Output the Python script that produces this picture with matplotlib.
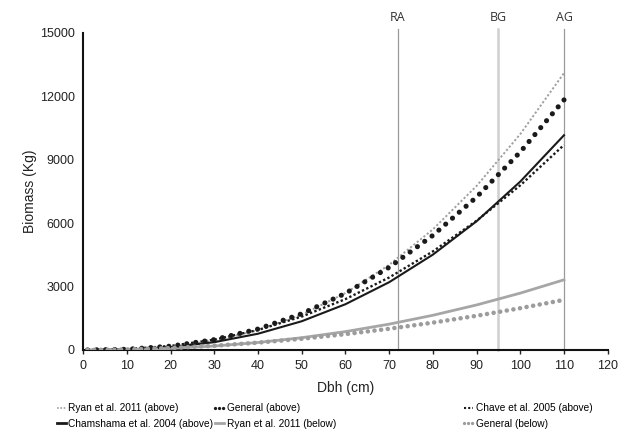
import numpy as np
import matplotlib
matplotlib.use('Agg')
import matplotlib.pyplot as plt
from matplotlib.lines import Line2D

plt.rcParams['font.family'] = ['Liberation Sans', 'DejaVu Sans']

# Dbh (cm) and biomass (kg)
dbh = [1, 10, 20, 30, 40, 50, 60, 70, 80, 90, 100, 110]
ryan_above = [0, 25, 153, 441, 935, 1673, 2693, 4026, 5705, 7760, 10214, 13100]
general_above = [0, 33, 181, 491, 993, 1714, 2680, 3910, 5422, 7235, 9367, 11830]
chave_above = [0, 39, 192, 489, 947, 1582, 2407, 3430, 4663, 6114, 7791, 9700]
chamshama_above = [0, 22, 131, 370, 770, 1360, 2166, 3207, 4511, 6090, 7968, 10160]
ryan_below = [0, 17, 77, 188, 355, 581, 870, 1223, 1642, 2131, 2690, 3320]
general_below = [0, 25, 93, 201, 347, 530, 749, 1004, 1294, 1618, 1978, 2370]

# reference lines
ref_pos = [72, 95, 110]
ref_lab = ['RA', 'BG', 'AG']

fig = plt.figure(figsize=(6.35, 4.45), dpi=100)
ax = fig.add_axes([0.131, 0.2135, 0.826, 0.7125])

# vertical lines first, curves over them
ref_col = ['#9a9a9a', '#cfcfcf', '#9a9a9a']
ref_lw = [0.9, 1.8, 0.9]
for x, lab, c, w in zip(ref_pos, ref_lab, ref_col, ref_lw):
    ax.plot([x, x], [0, 15200], color=c, lw=w, clip_on=False, zorder=1)
    ax.text(x, 15750, lab, ha='center', va='center', fontsize=9,
            color='#333333', family=['Open Sans', 'DejaVu Sans'])

ax.plot(dbh, ryan_above, color='#a0a0a0', lw=1.4, linestyle=(0, (1.1, 1.1)), zorder=3)
ax.plot(dbh, general_above, color='#1a1a1a', lw=3.7, linestyle=(0, (0.01, 1.75)),
        dash_capstyle='round', zorder=4)
ax.plot(dbh, chave_above, color='#1a1a1a', lw=1.7, linestyle=(0, (1.0, 1.0)), zorder=3)
ax.plot(dbh, chamshama_above, color='#1a1a1a', lw=1.5, zorder=3)
ax.plot(dbh, ryan_below, color='#a6a6a6', lw=2.0, zorder=3)
ax.plot(dbh, general_below, color='#9c9c9c', lw=3.3, linestyle=(0, (0.01, 1.45)),
        dash_capstyle='round', zorder=4)

ax.set_xlim(0, 120)
ax.set_ylim(0, 15000)
ax.set_xticks(np.arange(0, 121, 10))
ax.set_yticks(np.arange(0, 15001, 3000))
ax.tick_params(axis='x', length=3, width=1, labelsize=9, colors='#222222', pad=4)
ax.tick_params(axis='y', length=0, labelsize=9, colors='#222222', pad=6)
for s in ['top', 'right']:
    ax.spines[s].set_visible(False)
for s in ['left', 'bottom']:
    ax.spines[s].set_linewidth(1.5)
    ax.spines[s].set_color('#111111')

ax.set_xlabel('Dbh (cm)', fontsize=10, color='#222222', labelpad=7)
ax.set_ylabel('Biomass (Kg)', fontsize=10, color='#222222', labelpad=2)

# small legend keys, like the squeezed Excel ones
h1 = Line2D([], [], color='#a0a0a0', lw=1.2, linestyle=(0, (1, 1)), label='Ryan et al. 2011 (above)')
h2 = Line2D([], [], color='#1a1a1a', lw=2.4, linestyle=(0, (0.01, 1.2)), dash_capstyle='round',
            label='General (above)')
h3 = Line2D([], [], color='#1a1a1a', lw=1.5, linestyle=(0, (1, 1)), label='Chave et al. 2005 (above)')
h4 = Line2D([], [], color='#1a1a1a', lw=2.0, label='Chamshama et al. 2004 (above)')
h5 = Line2D([], [], color='#a6a6a6', lw=2.0, label='Ryan et al. 2011 (below)')
h6 = Line2D([], [], color='#9c9c9c', lw=2.4, linestyle=(0, (0.01, 1.2)), dash_capstyle='round',
            label='General (below)')

# legend laid out in three columns like the original
cols = [([h1, h4], 0.089), ([h2, h5], 0.339), ([h3, h6], 0.731)]
for hs, xpos in cols:
    fig.legend(handles=hs, loc='upper left', bbox_to_anchor=(xpos, 0.094),
               frameon=False, fontsize=7.3, handlelength=0.9, handletextpad=0.25,
               labelspacing=0.55, borderpad=0, borderaxespad=0)

fig.savefig('out.png', dpi=100)
